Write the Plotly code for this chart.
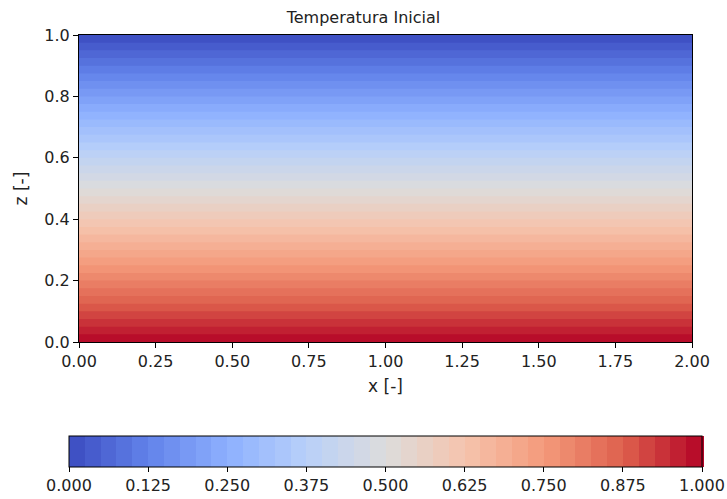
import plotly.graph_objects as go

# Data
x_nodes = [0.0, 0.5, 1.0, 1.5, 2.0]
z_nodes = [0.0, 0.25, 0.5, 0.75, 1.0]
T_profile = [1.0, 0.75, 0.5, 0.25, 0.0]   # initial temperature vs z (same for every x)
x_ticks = [0.0, 0.25, 0.5, 0.75, 1.0, 1.25, 1.5, 1.75, 2.0]
z_ticks = [0.0, 0.2, 0.4, 0.6, 0.8, 1.0]
cbar_ticks = [0.0, 0.125, 0.25, 0.375, 0.5, 0.625, 0.75, 0.875, 1.0]

T_grid = [[t for _ in x_nodes] for t in T_profile]

coolwarm = [
    [0.0, "rgb(59,76,192)"],
    [0.125, "rgb(98,130,234)"],
    [0.25, "rgb(141,176,254)"],
    [0.375, "rgb(184,208,249)"],
    [0.5, "rgb(221,220,220)"],
    [0.625, "rgb(245,196,173)"],
    [0.75, "rgb(244,154,123)"],
    [0.875, "rgb(222,96,77)"],
    [1.0, "rgb(180,4,38)"],
]

tick_font = dict(family="DejaVu Sans", size=16, color="#222")
label_font = dict(family="DejaVu Sans", size=17, color="#222")

fig = go.Figure(go.Contour(
    x=x_nodes, y=z_nodes, z=T_grid,
    colorscale=coolwarm,
    zmin=0, zmax=1,
    contours=dict(start=0, end=1, size=0.025, coloring="fill"),
    line=dict(width=0),
    colorbar=dict(
        orientation="h",
        x=0.5, xanchor="center",
        y=-0.306, yanchor="top",
        lenmode="pixels", len=633,
        thicknessmode="pixels", thickness=31,
        xpad=0, ypad=0,
        outlinecolor="black", outlinewidth=1,
        tickvals=cbar_ticks, tickformat=".3f",
        ticks="outside", ticklen=5, tickcolor="black",
        tickfont=tick_font,
    ),
))

axis_common = dict(
    showline=True, mirror=True, linecolor="black", linewidth=1,
    ticks="outside", ticklen=5, tickcolor="black",
    showgrid=False, zeroline=False, tickfont=tick_font,
)

fig.update_layout(
    width=727, height=499,
    margin=dict(l=79, r=35, t=35, b=157, autoexpand=False),
    paper_bgcolor="white", plot_bgcolor="white",
    title=dict(text="Temperatura Inicial", x=0.5, xanchor="center", y=0.965, yanchor="middle",
               font=dict(family="DejaVu Sans", size=16, color="#222")),
    xaxis=dict(range=[0, 2], tickvals=x_ticks, tickformat=".2f",
               title=dict(text="x [-]", font=label_font, standoff=9), **axis_common),
    yaxis=dict(range=[0, 1], tickvals=z_ticks, tickformat=".1f",
               title=dict(text="z [-]", font=label_font, standoff=12), **axis_common),
)

fig.write_html("out.html")
